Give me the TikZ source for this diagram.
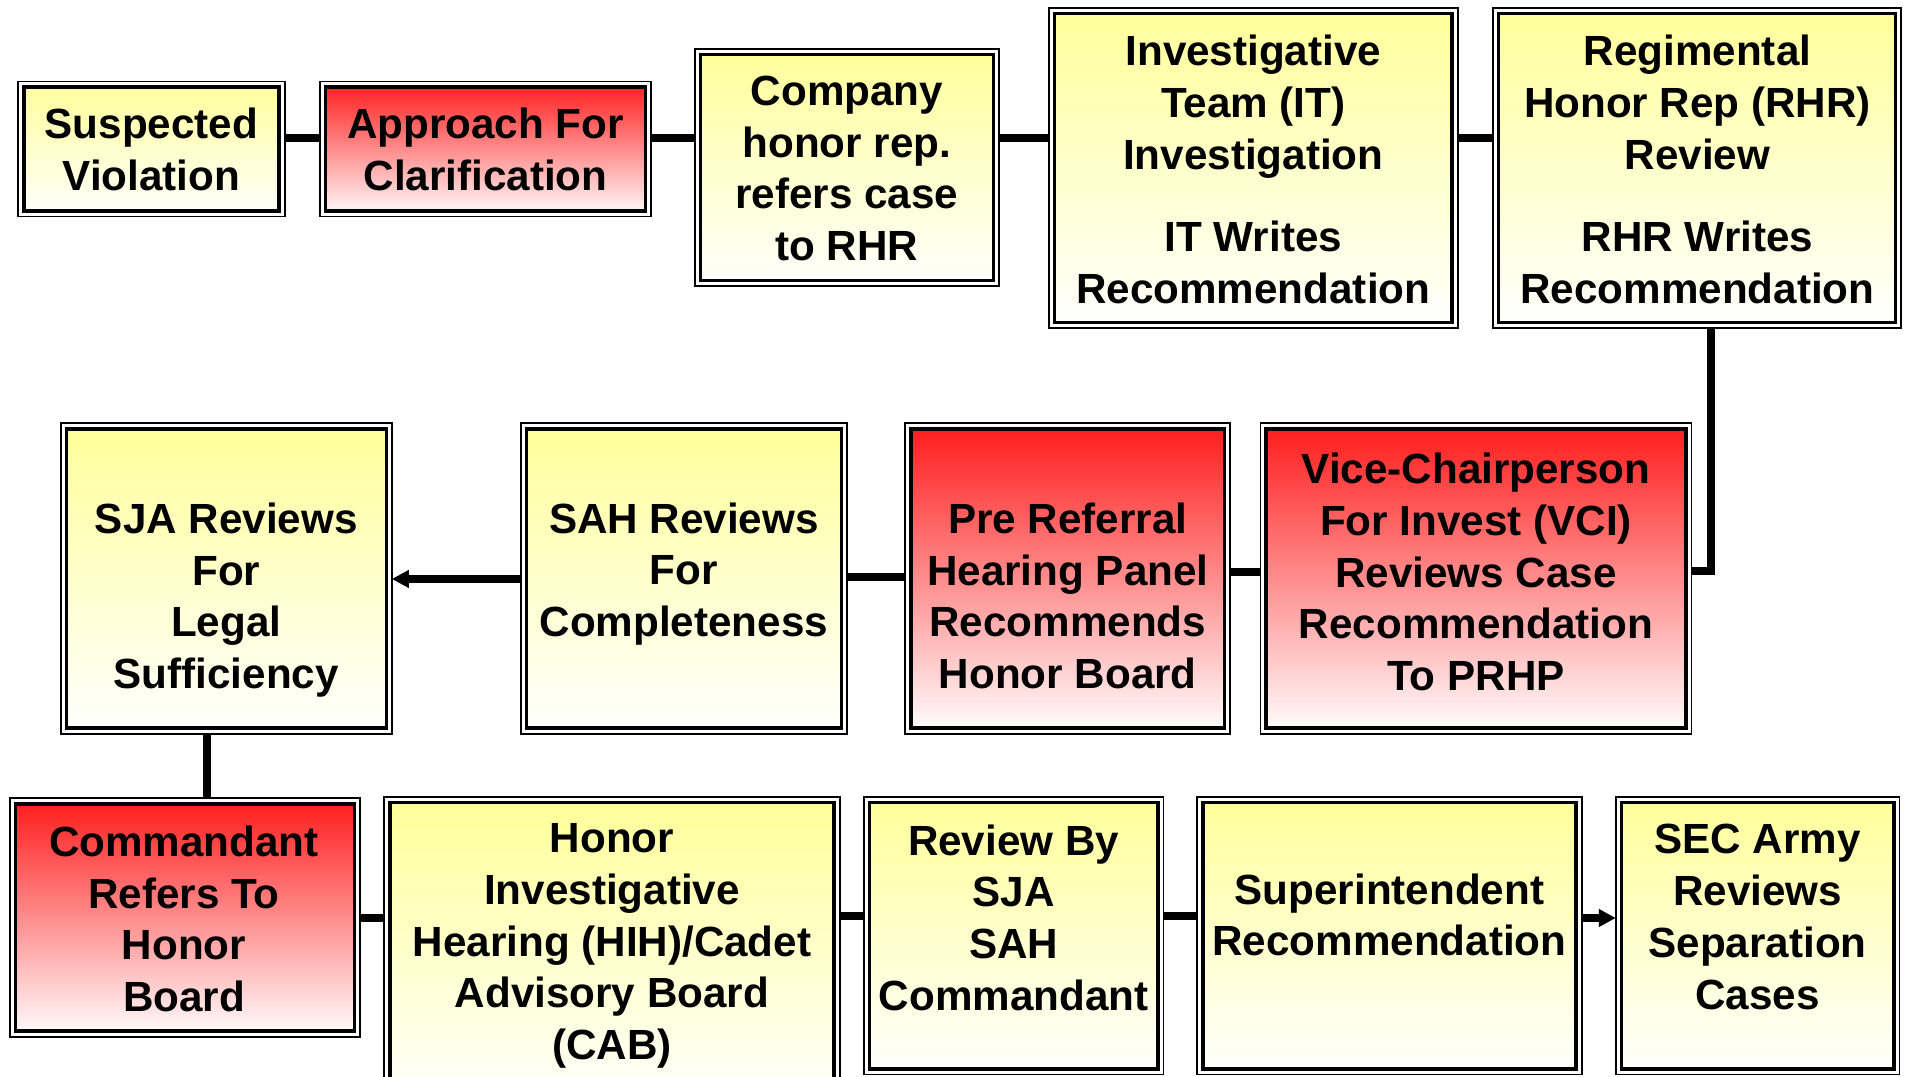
\documentclass[tikz,border=0pt]{standalone}
\usepackage{fontspec}
\setmainfont{Liberation Sans}
\usetikzlibrary{arrows.meta}
\definecolor{boxyellow}{HTML}{FFFF99}
\definecolor{boxred}{HTML}{FF1A1A}
\tikzset{
  frame/.style={draw=black, line width=0.5pt, inner sep=0pt, outer sep=0pt,
    path picture={\draw[line width=1pt, top color=#1, bottom color=white]
      ([shift={(1.6pt,-1.6pt)}]path picture bounding box.north west) rectangle
      ([shift={(-1.6pt,1.6pt)}]path picture bounding box.south east);}},
  ybox/.style={frame=boxyellow},
  rbox/.style={frame=boxred},
  txt/.style={align=center, inner sep=0pt, font=\bfseries\fontsize{12}{14.7}\selectfont},
  link/.style={line width=2pt},
  flow/.style={link, -{Triangle[length=4.8pt,width=4.8pt]}}
}
\begin{document}
\begin{tikzpicture}[x=0.01cm, y=-0.01cm]
\useasboundingbox (0,0) rectangle (1908,1077);

% first row
\node[ybox, minimum width=2.664cm, minimum height=1.35cm] (sv) at (151.5,149) {};
\node[rbox, minimum width=3.31cm, minimum height=1.35cm] (afc) at (485.5,149) {};
\node[ybox, minimum width=3.042cm, minimum height=2.373cm] (chr) at (846.9,167.4) {};
\node[ybox, minimum width=4.088cm, minimum height=3.2cm] (it) at (1253.3,168) {};
\node[ybox, minimum width=4.08cm, minimum height=3.2cm] (rhr) at (1697,168) {};

% second row
\node[ybox, minimum width=3.31cm, minimum height=3.103cm] (sja) at (226.3,578.5) {};
\node[ybox, minimum width=3.261cm, minimum height=3.103cm] (sah) at (683.9,578.5) {};
\node[rbox, minimum width=3.249cm, minimum height=3.103cm] (prhp) at (1067.8,578.5) {};
\node[rbox, minimum width=4.308cm, minimum height=3.103cm] (vci) at (1476,578.5) {};

% third row
\node[rbox, minimum width=3.505cm, minimum height=2.385cm] (cmdt) at (185,917.5) {};
\node[ybox, minimum width=4.551cm, minimum height=3.13cm] (hih) at (612,953.5) {};
\node[ybox, minimum width=2.994cm, minimum height=2.774cm] (rev) at (1013.6,935.7) {};
\node[ybox, minimum width=3.845cm, minimum height=2.774cm] (supt) at (1389.5,935.7) {};
\node[ybox, minimum width=2.835cm, minimum height=2.774cm] (sec) at (1757.6,935.7) {};

% texts
\node[txt] (sv-t) at (151.5,149.5) {Suspected\\Violation};
\node[txt] (afc-t) at (485.5,149.5) {Approach For\\Clarification};
\node[txt] (chr-t) at (846.9,168.5) {Company\\honor rep.\\refers case\\to RHR};
\node[txt] (it-t) at (1253.3,169.7) {Investigative\\Team (IT)\\Investigation\\[8.8pt]IT Writes\\Recommendation};
\node[txt] (rhr-t) at (1697.5,169.7) {Regimental\\Honor Rep (RHR)\\Review\\[8.8pt]RHR Writes\\Recommendation};
\node[txt] (sja-t) at (226.3,600) {SJA Reviews\\For\\Legal\\Sufficiency};
\node[txt] (sah-t) at (683.9,574) {SAH Reviews\\For\\Completeness};
\node[txt] (prhp-t) at (1067.8,596) {Pre Referral\\Hearing Panel\\Recommends\\Honor Board};
\node[txt] (vci-t) at (1476,572) {Vice-Chairperson\\For Invest (VCI)\\Reviews Case\\Recommendation\\To PRHP};
\node[txt] (cmdt-t) at (184,919) {Commandant\\Refers To\\Honor\\Board};
\node[txt] (hih-t) at (612,946) {Honor\\Investigative\\Hearing (HIH)/Cadet\\Advisory Board\\(CAB)};
\node[txt] (rev-t) at (1013.6,917.5) {Review By\\SJA\\SAH\\Commandant};
\node[txt] (supt-t) at (1389.5,915) {Superintendent\\Recommendation};
\node[txt] (sec-t) at (1757.6,917) {SEC Army\\Reviews\\Separation\\Cases};

% connectors
\draw[link] (sv.east |- 0,138) -- (afc.west |- 0,138);
\draw[link] (afc.east |- 0,138) -- (chr.west |- 0,138);
\draw[link] (chr.east |- 0,138) -- (it.west |- 0,138);
\draw[link] (it.east |- 0,138) -- (rhr.west |- 0,138);
\draw[link] (rhr.south -| 1711,0) |- (vci.east |- 0,571);
\draw[link] (vci.west |- 0,572) -- (prhp.east |- 0,572);
\draw[link] (prhp.west |- 0,577) -- (sah.east |- 0,577);
\draw[flow] (sah.west |- 0,579) -- (sja.east |- 0,579);
\draw[link] (sja.south -| 207,0) -- (cmdt.north -| 207,0);
\draw[link] (cmdt.east |- 0,918) -- (hih.west |- 0,918);
\draw[link] (hih.east |- 0,916) -- (rev.west |- 0,916);
\draw[link] (rev.east |- 0,916) -- (supt.west |- 0,916);
\draw[flow] (supt.east |- 0,918) -- (sec.west |- 0,918);
\end{tikzpicture}
\end{document}
